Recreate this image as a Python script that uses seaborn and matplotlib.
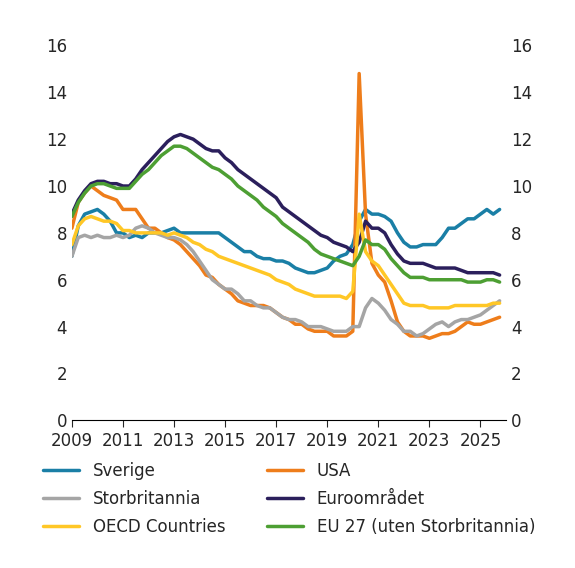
import numpy as np
import pandas as pd
import matplotlib
matplotlib.use("Agg")
import matplotlib.pyplot as plt
import seaborn as sns

sns.set_style("white")
plt.rcParams['font.family'] = ['DejaVu Sans']

# quarterly values 2009Q1 - 2025Q4
sverige = [7.0, 8.3, 8.8, 8.9, 9.0, 8.8, 8.5, 8.0, 8.0, 7.8, 7.9, 7.8, 8.0, 8.0, 8.0, 8.1,
           8.2, 8.0, 8.0, 8.0, 8.0, 8.0, 8.0, 8.0, 7.8, 7.6, 7.4, 7.2, 7.2, 7.0, 6.9, 6.9,
           6.8, 6.8, 6.7, 6.5, 6.4, 6.3, 6.3, 6.4, 6.5, 6.8, 7.0, 7.1, 7.5, 8.5, 9.0, 8.8,
           8.8, 8.7, 8.5, 8.0, 7.6, 7.4, 7.4, 7.5, 7.5, 7.5, 7.8, 8.2, 8.2, 8.4, 8.6, 8.6,
           8.8, 9.0, 8.8, 9.0]
usa = [8.2, 9.3, 9.7, 10.0, 9.8, 9.6, 9.5, 9.4, 9.0, 9.0, 9.0, 8.6, 8.2, 8.2, 8.0, 7.8,
       7.7, 7.5, 7.2, 6.9, 6.6, 6.2, 6.1, 5.8, 5.6, 5.4, 5.1, 5.0, 4.9, 4.9, 4.9, 4.8,
       4.6, 4.4, 4.3, 4.1, 4.1, 3.9, 3.8, 3.8, 3.8, 3.6, 3.6, 3.6, 3.8, 14.8, 8.8, 6.7,
       6.2, 5.9, 5.1, 4.2, 3.8, 3.6, 3.6, 3.6, 3.5, 3.6, 3.7, 3.7, 3.8, 4.0, 4.2, 4.1,
       4.1, 4.2, 4.3, 4.4]
storbritannia = [7.0, 7.8, 7.9, 7.8, 7.9, 7.8, 7.8, 7.9, 7.8, 7.9, 8.2, 8.3, 8.2, 8.0, 7.9, 7.8,
                 7.8, 7.7, 7.5, 7.2, 6.8, 6.4, 6.0, 5.8, 5.6, 5.6, 5.4, 5.1, 5.1, 4.9, 4.8, 4.8,
                 4.6, 4.4, 4.3, 4.3, 4.2, 4.0, 4.0, 4.0, 3.9, 3.8, 3.8, 3.8, 4.0, 4.0, 4.8, 5.2,
                 5.0, 4.7, 4.3, 4.1, 3.8, 3.8, 3.6, 3.7, 3.9, 4.1, 4.2, 4.0, 4.2, 4.3, 4.3, 4.4,
                 4.5, 4.7, 4.9, 5.1]
euro = [8.8, 9.4, 9.8, 10.1, 10.2, 10.2, 10.1, 10.1, 10.0, 10.0, 10.3, 10.7, 11.0, 11.3, 11.6, 11.9,
        12.1, 12.2, 12.1, 12.0, 11.8, 11.6, 11.5, 11.5, 11.2, 11.0, 10.7, 10.5, 10.3, 10.1, 9.9, 9.7,
        9.5, 9.1, 8.9, 8.7, 8.5, 8.3, 8.1, 7.9, 7.8, 7.6, 7.5, 7.4, 7.2, 7.6, 8.5, 8.2,
        8.2, 8.0, 7.5, 7.1, 6.8, 6.7, 6.7, 6.7, 6.6, 6.5, 6.5, 6.5, 6.5, 6.4, 6.3, 6.3,
        6.3, 6.3, 6.3, 6.2]
oecd = [7.5, 8.3, 8.6, 8.7, 8.6, 8.5, 8.5, 8.4, 8.1, 8.1, 8.0, 8.0, 8.0, 8.0, 8.0, 7.9,
        8.0, 7.9, 7.8, 7.6, 7.5, 7.3, 7.2, 7.0, 6.9, 6.8, 6.7, 6.6, 6.5, 6.4, 6.3, 6.2,
        6.0, 5.9, 5.8, 5.6, 5.5, 5.4, 5.3, 5.3, 5.3, 5.3, 5.3, 5.2, 5.5, 8.8, 7.2, 6.8,
        6.6, 6.2, 5.8, 5.4, 5.0, 4.9, 4.9, 4.9, 4.8, 4.8, 4.8, 4.8, 4.9, 4.9, 4.9, 4.9,
        4.9, 4.9, 5.0, 5.0]
eu27 = [8.7, 9.3, 9.7, 10.0, 10.1, 10.1, 10.0, 9.9, 9.9, 9.9, 10.2, 10.5, 10.7, 11.0, 11.3, 11.5,
        11.7, 11.7, 11.6, 11.4, 11.2, 11.0, 10.8, 10.7, 10.5, 10.3, 10.0, 9.8, 9.6, 9.4, 9.1, 8.9,
        8.7, 8.4, 8.2, 8.0, 7.8, 7.6, 7.3, 7.1, 7.0, 6.9, 6.8, 6.7, 6.6, 7.0, 7.7, 7.5,
        7.5, 7.3, 6.9, 6.6, 6.3, 6.1, 6.1, 6.1, 6.0, 6.0, 6.0, 6.0, 6.0, 6.0, 5.9, 5.9,
        5.9, 6.0, 6.0, 5.9]

t = 2009 + np.arange(len(sverige)) / 4
series = {
    "Sverige": (sverige, "#1a7fa6"),
    "USA": (usa, "#ee7d1b"),
    "Storbritannia": (storbritannia, "#a5a5a5"),
    "Euroområdet": (euro, "#2b1f5c"),
    "OECD Countries": (oecd, "#ffc726"),
    "EU 27 (uten Storbritannia)": (eu27, "#4d9f33"),
}
df = pd.DataFrame({"t": np.tile(t, len(series)),
                   "value": np.concatenate([v for v, _ in series.values()]),
                   "serie": np.repeat(list(series.keys()), len(t))})
palette = {k: c for k, (_, c) in series.items()}

fig, ax = plt.subplots(figsize=(5.75, 5.68), dpi=100)
fig.subplots_adjust(left=0.125, right=0.88, top=0.92, bottom=0.26)
sns.lineplot(data=df, x="t", y="value", hue="serie", palette=palette, lw=2.5, ax=ax)

ax.set_xlim(2009, 2026)
ax.set_ylim(0, 16)
ax.set_xticks(range(2009, 2026, 2))
ax.set_yticks(range(0, 17, 2))
ax.set_xlabel("")
ax.set_ylabel("")
for s in ["top", "left", "right"]:
    ax.spines[s].set_visible(False)
ax.spines["bottom"].set_color("black")
ax.tick_params(axis="x", length=5, direction="out", bottom=True, labelsize=12)
ax.tick_params(axis="y", length=0, labelsize=12)
ax2 = ax.twinx()
ax2.set_ylim(0, 16)
ax2.set_yticks(range(0, 17, 2))
ax2.tick_params(axis="y", length=0, labelsize=12)
for s in ax2.spines.values():
    s.set_visible(False)

handles, labels = ax.get_legend_handles_labels()
order = [0, 2, 4, 1, 3, 5]  # fill rows: Sverige/USA, Storbritannia/Euro, OECD/EU27
ax.legend([handles[i] for i in order], [labels[i] for i in order],
          loc="upper center", bbox_to_anchor=(0.5, -0.07), ncol=2, frameon=False,
          fontsize=12, handlelength=2.2, columnspacing=2.5, labelspacing=0.6)
fig.savefig("out.png")
